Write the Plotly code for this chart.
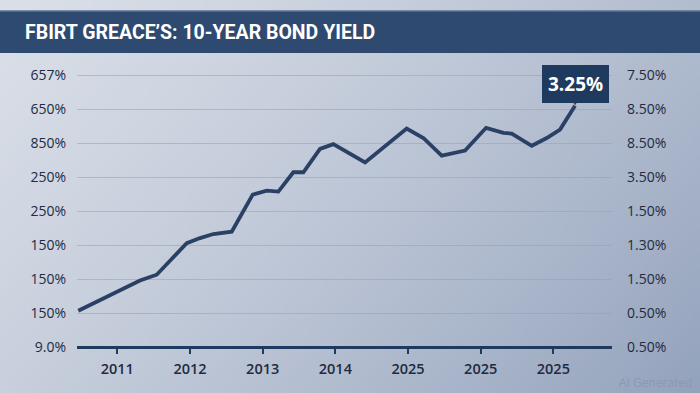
import base64, struct, zlib
import numpy as np
import plotly.graph_objects as go

# ---- data ----
x_pos = [-0.537, 0.151, 0.312, 0.542, 0.955, 1.138, 1.321, 1.574, 1.863, 2.056, 2.216,
         2.422, 2.560, 2.789, 2.972, 3.409, 3.982, 4.211, 4.464, 4.785, 5.074, 5.312,
         5.427, 5.703, 5.909, 6.092, 6.298]
y_vals = [1.07, 1.81, 1.96, 2.13, 3.06, 3.21, 3.33, 3.40, 4.49, 4.61, 4.58,
          5.15, 5.15, 5.84, 5.98, 5.44, 6.44, 6.16, 5.64, 5.79, 6.46, 6.31,
          6.29, 5.93, 6.16, 6.41, 7.11]
x_tickvals = [0, 1, 2, 3, 4, 5, 6]
x_ticktext = ["2011", "2012", "2013", "2014", "2025", "2025", "2025"]
y_tickvals = [0, 1, 2, 3, 4, 5, 6, 7, 8]
left_ticktext = ["9.0%", "150%", "150%", "150%", "250%", "250%", "850%", "650%", "657%"]
right_ticktext = ["0.50%", "0.50%", "1.50%", "1.30%", "1.50%", "3.50%", "8.50%", "8.50%", "7.50%"]
title_text = "FBIRT GREACE\u2019S: 10-YEAR BOND YIELD"
callout_text = "3.25%"

# ---- layout geometry ----
W, H = 700, 393
ML, MR, MT, MB = 77, 88, 62, 46
PW, PH = W - ML - MR, H - MT - MB
NAVY = "#1f3a5f"
TEXT = "#1f2b40"


def gradient_png(w, h):
    c0 = np.array([218, 223, 232], float)
    c1 = np.array([148, 163, 189], float)
    yy, xx = np.mgrid[0:h, 0:w]
    t = (xx / (w - 1)) * 0.65 + (yy / (h - 1)) * 0.35
    t = np.clip(t, 0, 1)[..., None] ** 1.3
    arr = (c0 * (1 - t) + c1 * t).astype(np.uint8)
    raw = b"".join(b"\x00" + arr[r].tobytes() for r in range(h))

    def chunk(tag, data):
        c = struct.pack(">I", len(data)) + tag + data
        return c + struct.pack(">I", zlib.crc32(tag + data) & 0xFFFFFFFF)

    png = b"\x89PNG\r\n\x1a\n"
    png += chunk(b"IHDR", struct.pack(">IIBBBBB", w, h, 8, 2, 0, 0, 0))
    png += chunk(b"IDAT", zlib.compress(raw, 9))
    png += chunk(b"IEND", b"")
    return "data:image/png;base64," + base64.b64encode(png).decode()


def px_x(p):
    return (p - ML) / PW


def px_y(p):
    return (H - MB - p) / PH


fig = go.Figure()
fig.add_trace(go.Scatter(x=x_pos, y=y_vals, mode="lines",
                         line=dict(color="#2a4064", width=3.8, shape="linear"),
                         hoverinfo="skip", showlegend=False))
# invisible trace to activate right axis
fig.add_trace(go.Scatter(x=x_pos, y=y_vals, yaxis="y2", mode="lines",
                         line=dict(color="rgba(0,0,0,0)"), hoverinfo="skip",
                         showlegend=False))

fig.update_layout(
    width=W, height=H,
    margin=dict(l=ML, r=MR, t=MT, b=MB, pad=0),
    paper_bgcolor="#bcc5d3",
    plot_bgcolor="rgba(0,0,0,0)",
    font=dict(family="Open Sans, Inter, sans-serif", color=TEXT),
    xaxis=dict(range=[-0.555, 6.807], tickvals=x_tickvals, ticktext=x_ticktext,
               showgrid=False, zeroline=False, showline=False,
               ticks="outside", ticklen=6, tickwidth=1.5, tickcolor=NAVY,
               tickfont=dict(size=14.5, color=TEXT, weight=600), ticklabelstandoff=3),
    yaxis=dict(range=[0, 8.4], tickvals=y_tickvals, ticktext=left_ticktext,
               showgrid=True, gridcolor="rgba(150,160,175,0.55)", gridwidth=1,
               zeroline=True, zerolinecolor=NAVY, zerolinewidth=2.5, showline=False,
               ticks="", tickfont=dict(size=14, color=TEXT, weight=500),
               ticklabelstandoff=10),
    yaxis2=dict(range=[0, 8.4], tickvals=y_tickvals, ticktext=right_ticktext,
                overlaying="y", side="right", showgrid=False, zeroline=False,
                showline=False, ticks="", tickfont=dict(size=14, color=TEXT, weight=500),
                ticklabelstandoff=14),
    images=[dict(source=gradient_png(140, 80), xref="paper", yref="paper",
                 x=px_x(0), y=px_y(0), sizex=W / PW, sizey=H / PH,
                 sizing="stretch", xanchor="left", yanchor="top", layer="below")],
    shapes=[dict(type="rect", xref="paper", yref="paper",
                 x0=px_x(0), x1=px_x(W), y0=px_y(53), y1=px_y(11),
                 fillcolor="#2e4a70", line=dict(width=0), layer="below"),
            dict(type="line", xref="paper", yref="paper",
                 x0=px_x(0), x1=px_x(W), y0=px_y(11), y1=px_y(11),
                 line=dict(color="#5d7393", width=1.5))],
    annotations=[
        dict(text=title_text, xref="paper", yref="paper", x=px_x(23), y=px_y(33),
             xanchor="left", yanchor="middle", showarrow=False,
             font=dict(family="Roboto, sans-serif", size=19.5, color="white", weight=700)),
        dict(text="AI Generated", xref="paper", yref="paper", x=px_x(695), y=px_y(382),
             xanchor="right", yanchor="middle", showarrow=False,
             font=dict(size=12, color="#8c98ad")),
        dict(text="\u25BC", x=x_pos[-1], y=y_vals[-1], xref="x", yref="y",
             showarrow=False, xanchor="center", yanchor="bottom", yshift=-3,
             font=dict(size=13, color=NAVY, family="DejaVu Sans")),
        dict(text="<b>" + callout_text + "</b>", x=x_pos[-1], y=y_vals[-1],
             xref="x", yref="y", showarrow=True, ax=0, ay=-22,
             arrowcolor="rgba(0,0,0,0)", bgcolor=NAVY, borderpad=6,
             bordercolor=NAVY, borderwidth=0,
             font=dict(size=19, color="white", family="Open Sans, sans-serif")),
    ],
)

fig.write_html("out.html", config={"displayModeBar": False},
               post_script="document.body.style.margin='0';document.body.style.padding='0';")
